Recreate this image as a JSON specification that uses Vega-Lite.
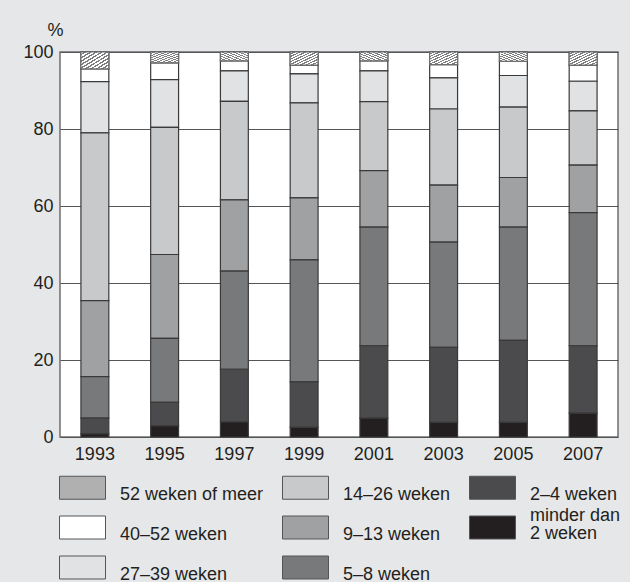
{
  "$schema": "https://vega.github.io/schema/vega-lite/v6.json",
  "autosize": "none",
  "width": 558,
  "height": 385,
  "padding": {"left": 60, "top": 52, "right": 12, "bottom": 145},
  "background": "#e6e7e9",
  "config": {
    "view": {"fill": "#ffffff", "stroke": "#6d6e70", "strokeWidth": 1.5},
    "font": "Liberation Sans",
    "axis": {"labelFont": "Liberation Sans", "titleFont": "Liberation Sans", "labelColor": "#231f20", "titleColor": "#231f20"}
  },
  "params": [
    {"name": "hatch", "value": {"gradient": "linear", "x1": 0, "y1": 0, "x2": 1, "y2": 1, "stops": [
      {"offset": 0, "color": "#ffffff"}, {"offset": 0.055, "color": "#ffffff"}, {"offset": 0.055, "color": "#7d7d7d"}, {"offset": 0.1, "color": "#7d7d7d"},
      {"offset": 0.1, "color": "#ffffff"}, {"offset": 0.155, "color": "#ffffff"}, {"offset": 0.155, "color": "#7d7d7d"}, {"offset": 0.2, "color": "#7d7d7d"},
      {"offset": 0.2, "color": "#ffffff"}, {"offset": 0.255, "color": "#ffffff"}, {"offset": 0.255, "color": "#7d7d7d"}, {"offset": 0.3, "color": "#7d7d7d"},
      {"offset": 0.3, "color": "#ffffff"}, {"offset": 0.355, "color": "#ffffff"}, {"offset": 0.355, "color": "#7d7d7d"}, {"offset": 0.4, "color": "#7d7d7d"},
      {"offset": 0.4, "color": "#ffffff"}, {"offset": 0.455, "color": "#ffffff"}, {"offset": 0.455, "color": "#7d7d7d"}, {"offset": 0.5, "color": "#7d7d7d"},
      {"offset": 0.5, "color": "#ffffff"}, {"offset": 0.555, "color": "#ffffff"}, {"offset": 0.555, "color": "#7d7d7d"}, {"offset": 0.6, "color": "#7d7d7d"},
      {"offset": 0.6, "color": "#ffffff"}, {"offset": 0.655, "color": "#ffffff"}, {"offset": 0.655, "color": "#7d7d7d"}, {"offset": 0.7, "color": "#7d7d7d"},
      {"offset": 0.7, "color": "#ffffff"}, {"offset": 0.755, "color": "#ffffff"}, {"offset": 0.755, "color": "#7d7d7d"}, {"offset": 0.8, "color": "#7d7d7d"},
      {"offset": 0.8, "color": "#ffffff"}, {"offset": 0.855, "color": "#ffffff"}, {"offset": 0.855, "color": "#7d7d7d"}, {"offset": 0.9, "color": "#7d7d7d"},
      {"offset": 0.9, "color": "#ffffff"}, {"offset": 0.955, "color": "#ffffff"}, {"offset": 0.955, "color": "#7d7d7d"}, {"offset": 1, "color": "#7d7d7d"}
    ]}}
  ],
  "data": {
    "values": [
      {"jaar": "1993", "duur": "52 weken of meer", "procent": 4.4, "volgorde": 8},
      {"jaar": "1993", "duur": "40–52 weken", "procent": 3.3, "volgorde": 7},
      {"jaar": "1993", "duur": "27–39 weken", "procent": 13.3, "volgorde": 6},
      {"jaar": "1993", "duur": "14–26 weken", "procent": 43.6, "volgorde": 5},
      {"jaar": "1993", "duur": "9–13 weken", "procent": 19.7, "volgorde": 4},
      {"jaar": "1993", "duur": "5–8 weken", "procent": 10.8, "volgorde": 3},
      {"jaar": "1993", "duur": "2–4 weken", "procent": 4.1, "volgorde": 2},
      {"jaar": "1993", "duur": "minder dan 2 weken", "procent": 0.8, "volgorde": 1},
      {"jaar": "1995", "duur": "52 weken of meer", "procent": 2.8, "volgorde": 8},
      {"jaar": "1995", "duur": "40–52 weken", "procent": 4.4, "volgorde": 7},
      {"jaar": "1995", "duur": "27–39 weken", "procent": 12.4, "volgorde": 6},
      {"jaar": "1995", "duur": "14–26 weken", "procent": 33.0, "volgorde": 5},
      {"jaar": "1995", "duur": "9–13 weken", "procent": 21.8, "volgorde": 4},
      {"jaar": "1995", "duur": "5–8 weken", "procent": 16.6, "volgorde": 3},
      {"jaar": "1995", "duur": "2–4 weken", "procent": 6.1, "volgorde": 2},
      {"jaar": "1995", "duur": "minder dan 2 weken", "procent": 2.9, "volgorde": 1},
      {"jaar": "1997", "duur": "52 weken of meer", "procent": 2.3, "volgorde": 8},
      {"jaar": "1997", "duur": "40–52 weken", "procent": 2.6, "volgorde": 7},
      {"jaar": "1997", "duur": "27–39 weken", "procent": 7.9, "volgorde": 6},
      {"jaar": "1997", "duur": "14–26 weken", "procent": 25.6, "volgorde": 5},
      {"jaar": "1997", "duur": "9–13 weken", "procent": 18.5, "volgorde": 4},
      {"jaar": "1997", "duur": "5–8 weken", "procent": 25.5, "volgorde": 3},
      {"jaar": "1997", "duur": "2–4 weken", "procent": 13.7, "volgorde": 2},
      {"jaar": "1997", "duur": "minder dan 2 weken", "procent": 3.9, "volgorde": 1},
      {"jaar": "1999", "duur": "52 weken of meer", "procent": 3.4, "volgorde": 8},
      {"jaar": "1999", "duur": "40–52 weken", "procent": 2.3, "volgorde": 7},
      {"jaar": "1999", "duur": "27–39 weken", "procent": 7.5, "volgorde": 6},
      {"jaar": "1999", "duur": "14–26 weken", "procent": 24.7, "volgorde": 5},
      {"jaar": "1999", "duur": "9–13 weken", "procent": 16.1, "volgorde": 4},
      {"jaar": "1999", "duur": "5–8 weken", "procent": 31.7, "volgorde": 3},
      {"jaar": "1999", "duur": "2–4 weken", "procent": 11.8, "volgorde": 2},
      {"jaar": "1999", "duur": "minder dan 2 weken", "procent": 2.5, "volgorde": 1},
      {"jaar": "2001", "duur": "52 weken of meer", "procent": 2.3, "volgorde": 8},
      {"jaar": "2001", "duur": "40–52 weken", "procent": 2.6, "volgorde": 7},
      {"jaar": "2001", "duur": "27–39 weken", "procent": 8.0, "volgorde": 6},
      {"jaar": "2001", "duur": "14–26 weken", "procent": 17.9, "volgorde": 5},
      {"jaar": "2001", "duur": "9–13 weken", "procent": 14.7, "volgorde": 4},
      {"jaar": "2001", "duur": "5–8 weken", "procent": 30.8, "volgorde": 3},
      {"jaar": "2001", "duur": "2–4 weken", "procent": 18.8, "volgorde": 2},
      {"jaar": "2001", "duur": "minder dan 2 weken", "procent": 4.9, "volgorde": 1},
      {"jaar": "2003", "duur": "52 weken of meer", "procent": 3.3, "volgorde": 8},
      {"jaar": "2003", "duur": "40–52 weken", "procent": 3.4, "volgorde": 7},
      {"jaar": "2003", "duur": "27–39 weken", "procent": 8.1, "volgorde": 6},
      {"jaar": "2003", "duur": "14–26 weken", "procent": 19.8, "volgorde": 5},
      {"jaar": "2003", "duur": "9–13 weken", "procent": 14.8, "volgorde": 4},
      {"jaar": "2003", "duur": "5–8 weken", "procent": 27.3, "volgorde": 3},
      {"jaar": "2003", "duur": "2–4 weken", "procent": 19.5, "volgorde": 2},
      {"jaar": "2003", "duur": "minder dan 2 weken", "procent": 3.8, "volgorde": 1},
      {"jaar": "2005", "duur": "52 weken of meer", "procent": 2.4, "volgorde": 8},
      {"jaar": "2005", "duur": "40–52 weken", "procent": 3.7, "volgorde": 7},
      {"jaar": "2005", "duur": "27–39 weken", "procent": 8.2, "volgorde": 6},
      {"jaar": "2005", "duur": "14–26 weken", "procent": 18.3, "volgorde": 5},
      {"jaar": "2005", "duur": "9–13 weken", "procent": 12.9, "volgorde": 4},
      {"jaar": "2005", "duur": "5–8 weken", "procent": 29.4, "volgorde": 3},
      {"jaar": "2005", "duur": "2–4 weken", "procent": 21.3, "volgorde": 2},
      {"jaar": "2005", "duur": "minder dan 2 weken", "procent": 3.8, "volgorde": 1},
      {"jaar": "2007", "duur": "52 weken of meer", "procent": 3.4, "volgorde": 8},
      {"jaar": "2007", "duur": "40–52 weken", "procent": 4.2, "volgorde": 7},
      {"jaar": "2007", "duur": "27–39 weken", "procent": 7.7, "volgorde": 6},
      {"jaar": "2007", "duur": "14–26 weken", "procent": 14.1, "volgorde": 5},
      {"jaar": "2007", "duur": "9–13 weken", "procent": 12.3, "volgorde": 4},
      {"jaar": "2007", "duur": "5–8 weken", "procent": 34.6, "volgorde": 3},
      {"jaar": "2007", "duur": "2–4 weken", "procent": 17.5, "volgorde": 2},
      {"jaar": "2007", "duur": "minder dan 2 weken", "procent": 6.2, "volgorde": 1}
    ]
  },
  "encoding": {
    "x": {
      "field": "jaar",
      "type": "ordinal",
      "scale": {"paddingInner": 0.6, "paddingOuter": 0.3},
      "axis": {"title": null, "labelAngle": 0, "ticks": false, "domain": false, "labelFontSize": 18, "labelPadding": 8}
    }
  },
  "layer": [
    {
      "mark": {"type": "bar", "stroke": "#3a3a3a", "strokeWidth": 1.2},
      "encoding": {
        "y": {
          "field": "procent",
          "type": "quantitative",
          "stack": "zero",
          "scale": {"domain": [0, 100], "nice": false},
          "axis": {
            "values": [0, 20, 40, 60, 80, 100],
            "title": "%",
            "titleAngle": 0,
            "titleX": -5,
            "titleY": -22,
            "titleAlign": "center",
            "titleBaseline": "middle",
            "titleFontWeight": "normal",
            "titleFontSize": 18,
            "ticks": false,
            "domain": false,
            "labelFontSize": 18,
            "labelPadding": 7,
            "gridColor": "#555555",
            "gridWidth": 1.2,
            "gridOpacity": 1
          }
        },
        "color": {
          "field": "duur",
          "type": "nominal",
          "scale": {
            "domain": ["52 weken of meer", "40–52 weken", "27–39 weken", "14–26 weken", "9–13 weken", "5–8 weken", "2–4 weken", "minder dan 2 weken"],
            "range": ["#b0b0b0", "#ffffff", "#e1e2e4", "#c8c9cb", "#a0a1a3", "#78797b", "#4b4b4d", "#231f20"]
          },
          "legend": {
            "title": null,
            "orient": "none",
            "legendX": -1,
            "legendY": 412,
            "padding": 0,
            "columns": 3,
            "rowPadding": -14,
            "columnPadding": 16,
            "symbolType": "M-1,-0.5H1V0.5H-1Z",
            "symbolSize": 2116,
            "symbolStrokeColor": "#555555",
            "symbolStrokeWidth": 1,
            "symbolOpacity": 1,
            "labelFont": "Liberation Sans",
            "labelFontSize": 18,
            "labelColor": "#231f20",
            "labelOffset": 14,
            "labelLimit": 300,
            "labelBaseline": "middle",
            "labelExpr": "datum.value == 'minder dan 2 weken' ? ['minder dan', '2 weken'] : datum.label",
            "encode": {
              "labels": {
                "update": {
                  "dy": {"signal": "datum.value == 'minder dan 2 weken' ? -12 : 7"},
                  "lineHeight": {"value": 18}
                }
              }
            }
          }
        },
        "order": {"field": "volgorde", "type": "quantitative"}
      }
    },
    {
      "transform": [
        {"stack": "procent", "groupby": ["jaar"], "sort": [{"field": "volgorde", "order": "ascending"}], "as": ["onder", "boven"]},
        {"filter": "datum.duur == '52 weken of meer'"}
      ],
      "mark": {"type": "bar", "fill": {"expr": "hatch"}, "stroke": "#6d6e70", "strokeWidth": 1.2},
      "encoding": {
        "y": {"field": "boven", "type": "quantitative"},
        "y2": {"field": "onder"}
      }
    }
  ]
}
